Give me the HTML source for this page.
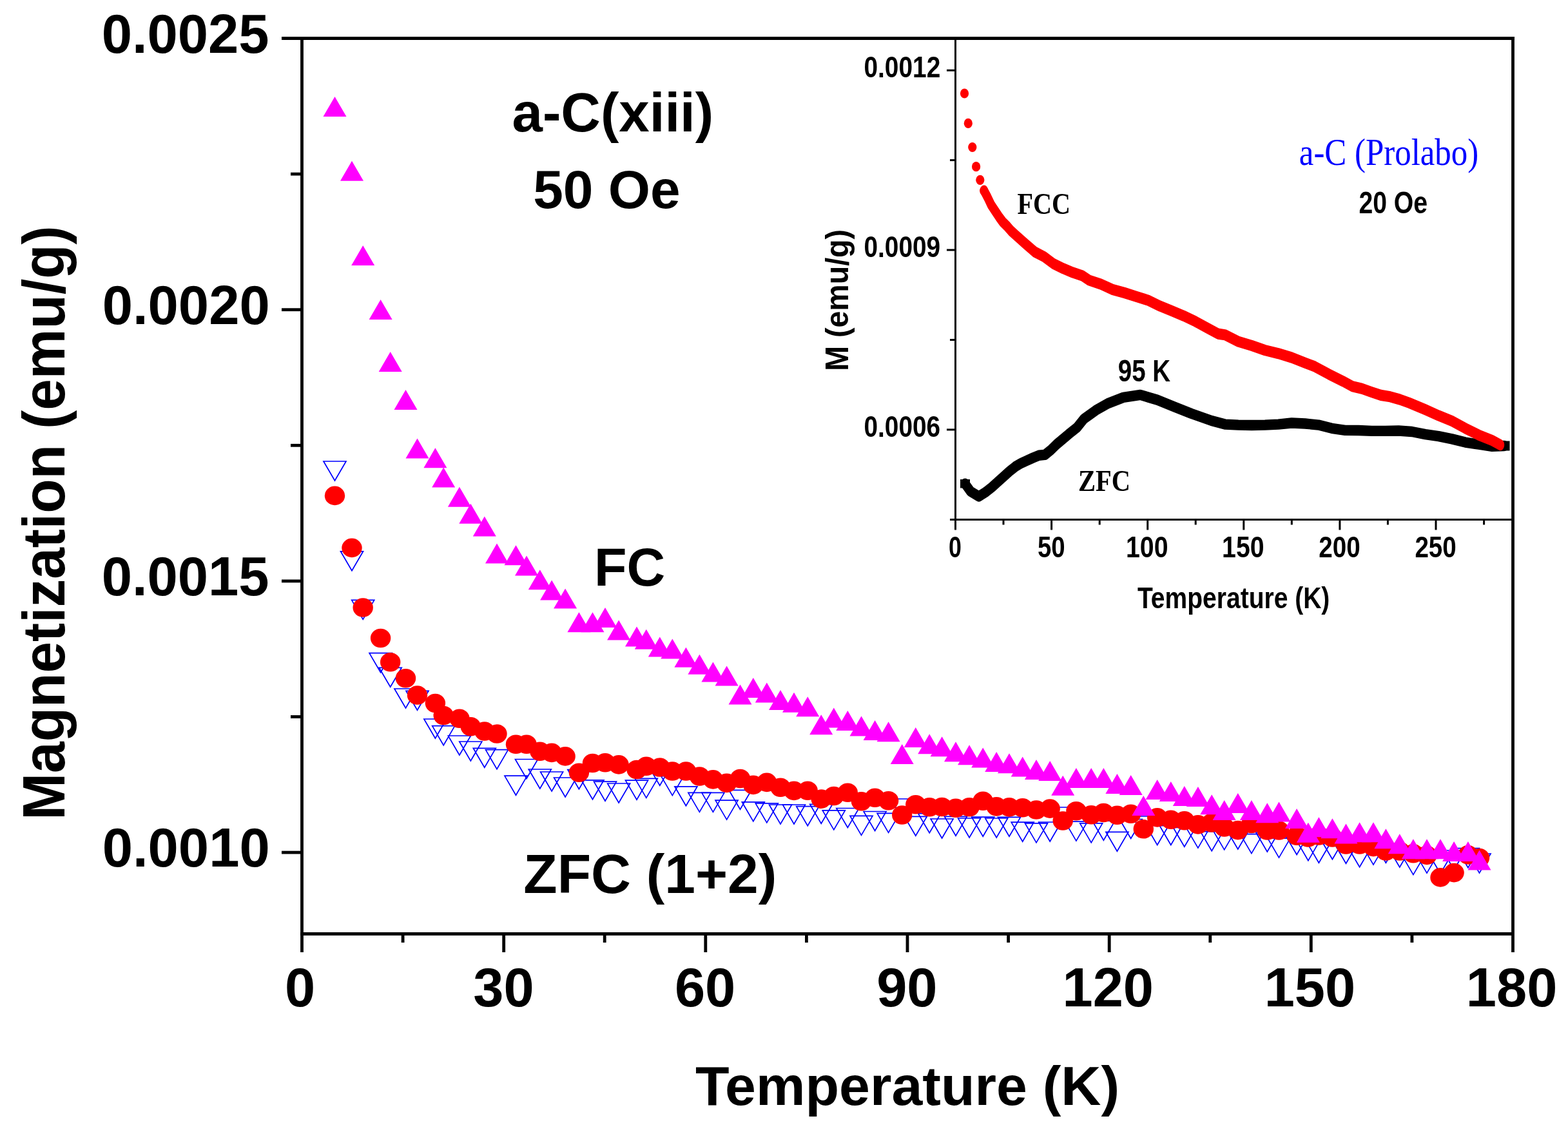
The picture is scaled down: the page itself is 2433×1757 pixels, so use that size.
<!DOCTYPE html><html><head><meta charset="utf-8"><title>Magnetization vs Temperature</title><style>html,body{margin:0;padding:0;background:#fff;overflow:hidden;width:2433px;height:1757px;}svg{display:block;}</style></head><body>
<svg width="2433" height="1757" viewBox="0 0 2433 1757">
<rect width="2433" height="1757" fill="#fff"/>
<g stroke="#000" stroke-width="4.8" fill="none" stroke-linecap="butt">
<path d="M437.0 59.5 H2349.9"/>
<path d="M468.5 57.1 V1451.9"/>
<path d="M2347.5 57.1 V1478.0"/>
<path d="M466.1 1449.5 H2347.5"/>
<path d="M437 480.7 H468.5"/>
<path d="M437 901.9 H468.5"/>
<path d="M437 1323.1 H468.5"/>
<path d="M451 270.1 H468.5"/>
<path d="M451 691.3 H468.5"/>
<path d="M451 1112.5 H468.5"/>
<path d="M468.5 1449.5 V1478"/>
<path d="M781.7 1449.5 V1478"/>
<path d="M1094.8 1449.5 V1478"/>
<path d="M1408.0 1449.5 V1478"/>
<path d="M1721.2 1449.5 V1478"/>
<path d="M2034.3 1449.5 V1478"/>
<path d="M625.1 1449.5 V1463"/>
<path d="M938.2 1449.5 V1463"/>
<path d="M1251.4 1449.5 V1463"/>
<path d="M1564.6 1449.5 V1463"/>
<path d="M1877.8 1449.5 V1463"/>
<path d="M2190.9 1449.5 V1463"/>
</g>
<text x="157.65" y="81.80" font-family='"Liberation Sans", sans-serif' font-weight="bold" font-size="85.00" fill="#000">0.0025</text>
<text x="158.71" y="503.00" font-family='"Liberation Sans", sans-serif' font-weight="bold" font-size="85.00" fill="#000">0.0020</text>
<text x="157.65" y="924.20" font-family='"Liberation Sans", sans-serif' font-weight="bold" font-size="85.00" fill="#000">0.0015</text>
<text x="158.71" y="1345.40" font-family='"Liberation Sans", sans-serif' font-weight="bold" font-size="85.00" fill="#000">0.0010</text>
<text x="441.97" y="1562.30" font-family='"Liberation Sans", sans-serif' font-weight="bold" font-size="84.80" fill="#000">0</text>
<text x="734.34" y="1562.30" font-family='"Liberation Sans", sans-serif' font-weight="bold" font-size="84.80" fill="#000">30</text>
<text x="1046.88" y="1562.30" font-family='"Liberation Sans", sans-serif' font-weight="bold" font-size="84.80" fill="#000">60</text>
<text x="1360.15" y="1562.30" font-family='"Liberation Sans", sans-serif' font-weight="bold" font-size="84.80" fill="#000">90</text>
<text x="1648.51" y="1562.30" font-family='"Liberation Sans", sans-serif' font-weight="bold" font-size="84.80" fill="#000">120</text>
<text x="1961.68" y="1562.30" font-family='"Liberation Sans", sans-serif' font-weight="bold" font-size="84.80" fill="#000">150</text>
<text x="2274.84" y="1562.30" font-family='"Liberation Sans", sans-serif' font-weight="bold" font-size="84.80" fill="#000">180</text>
<text x="1078.94" y="1714.70" font-family='"Liberation Sans", sans-serif' font-weight="bold" font-size="86.05" fill="#000">Temperature (K)</text>
<text transform="translate(100.40 1266.80) rotate(-90)" x="-5.90" y="0" font-family='"Liberation Sans", sans-serif' font-weight="bold" font-size="92.36" fill="#000" textLength="922.41" lengthAdjust="spacingAndGlyphs">Magnetization (emu/g)</text>
<text x="794.44" y="203.80" font-family='"Liberation Sans", sans-serif' font-weight="bold" font-size="85.30" fill="#000">a-C(xiii)</text>
<text x="827.18" y="323.20" font-family='"Liberation Sans", sans-serif' font-weight="bold" font-size="83.87" fill="#000">50 Oe</text>
<text x="922.02" y="909.40" font-family='"Liberation Sans", sans-serif' font-weight="bold" font-size="82.67" fill="#000">FC</text>
<text x="812.33" y="1385.80" font-family='"Liberation Sans", sans-serif' font-weight="bold" font-size="85.71" fill="#000">ZFC (1+2)</text>
<g fill="none" stroke="#0000FF" stroke-width="1.7" stroke-linejoin="miter">
<path d="M502.0 716.0 H537.0 L519.5 746.0 Z"/>
<path d="M528.5 855.8 H563.5 L546.0 885.8 Z"/>
<path d="M545.7 931.4 H580.7 L563.2 961.4 Z"/>
<path d="M573.1 1013.7 H608.1 L590.6 1043.7 Z"/>
<path d="M588.2 1036.3 H623.2 L605.7 1066.3 Z"/>
<path d="M612.0 1069.0 H647.0 L629.5 1099.0 Z"/>
<path d="M630.0 1072.3 H665.0 L647.5 1102.3 Z"/>
<path d="M657.9 1116.0 H692.9 L675.4 1146.0 Z"/>
<path d="M670.7 1126.7 H705.7 L688.2 1156.7 Z"/>
<path d="M695.4 1142.0 H730.4 L712.9 1172.0 Z"/>
<path d="M712.8 1151.0 H747.8 L730.3 1181.0 Z"/>
<path d="M734.3 1161.3 H769.3 L751.8 1191.3 Z"/>
<path d="M753.5 1163.7 H788.5 L771.0 1193.7 Z"/>
<path d="M783.0 1204.2 H818.0 L800.5 1234.2 Z"/>
<path d="M799.5 1178.5 H834.5 L817.0 1208.5 Z"/>
<path d="M820.3 1194.0 H855.3 L837.8 1224.0 Z"/>
<path d="M838.6 1198.0 H873.6 L856.1 1228.0 Z"/>
<path d="M859.6 1207.0 H894.6 L877.1 1237.0 Z"/>
<path d="M880.9 1194.7 H915.9 L898.4 1224.7 Z"/>
<path d="M902.0 1210.8 H937.0 L919.5 1240.8 Z"/>
<path d="M921.5 1213.2 H956.5 L939.0 1243.2 Z"/>
<path d="M942.6 1216.0 H977.6 L960.1 1246.0 Z"/>
<path d="M970.5 1211.2 H1005.5 L988.0 1241.2 Z"/>
<path d="M985.3 1208.4 H1020.3 L1002.8 1238.4 Z"/>
<path d="M1006.3 1189.2 H1041.3 L1023.8 1219.2 Z"/>
<path d="M1025.8 1204.6 H1060.8 L1043.3 1234.6 Z"/>
<path d="M1046.9 1220.8 H1081.9 L1064.4 1250.8 Z"/>
<path d="M1067.9 1230.4 H1102.9 L1085.4 1260.4 Z"/>
<path d="M1088.9 1230.4 H1123.9 L1106.4 1260.4 Z"/>
<path d="M1110.1 1242.1 H1145.1 L1127.6 1272.1 Z"/>
<path d="M1131.0 1226.3 H1166.0 L1148.5 1256.3 Z"/>
<path d="M1151.3 1244.8 H1186.3 L1168.8 1274.8 Z"/>
<path d="M1172.3 1246.9 H1207.3 L1189.8 1276.9 Z"/>
<path d="M1193.5 1249.0 H1228.5 L1211.0 1279.0 Z"/>
<path d="M1214.5 1249.0 H1249.5 L1232.0 1279.0 Z"/>
<path d="M1235.7 1251.7 H1270.7 L1253.2 1281.7 Z"/>
<path d="M1256.7 1248.3 H1291.7 L1274.2 1278.3 Z"/>
<path d="M1276.3 1257.9 H1311.3 L1293.8 1287.9 Z"/>
<path d="M1297.8 1254.5 H1332.8 L1315.3 1284.5 Z"/>
<path d="M1319.0 1266.4 H1354.0 L1336.5 1296.4 Z"/>
<path d="M1340.1 1259.5 H1375.1 L1357.6 1289.5 Z"/>
<path d="M1361.1 1262.4 H1396.1 L1378.6 1292.4 Z"/>
<path d="M1382.2 1240.0 H1417.2 L1399.7 1270.0 Z"/>
<path d="M1403.3 1267.3 H1438.3 L1420.8 1297.3 Z"/>
<path d="M1424.7 1262.7 H1459.7 L1442.2 1292.7 Z"/>
<path d="M1444.1 1271.0 H1479.1 L1461.6 1301.0 Z"/>
<path d="M1465.5 1267.3 H1500.5 L1483.0 1297.3 Z"/>
<path d="M1486.6 1270.0 H1521.6 L1504.1 1300.0 Z"/>
<path d="M1507.7 1268.2 H1542.7 L1525.2 1298.2 Z"/>
<path d="M1528.7 1270.0 H1563.7 L1546.2 1300.0 Z"/>
<path d="M1548.5 1268.3 H1583.5 L1566.0 1298.3 Z"/>
<path d="M1569.2 1276.2 H1604.2 L1586.7 1306.2 Z"/>
<path d="M1590.5 1277.9 H1625.5 L1608.0 1307.9 Z"/>
<path d="M1611.7 1276.0 H1646.7 L1629.2 1306.0 Z"/>
<path d="M1631.7 1253.0 H1666.7 L1649.2 1283.0 Z"/>
<path d="M1652.4 1275.1 H1687.4 L1669.9 1305.1 Z"/>
<path d="M1675.7 1277.9 H1710.7 L1693.2 1307.9 Z"/>
<path d="M1694.9 1274.2 H1729.9 L1712.4 1304.2 Z"/>
<path d="M1715.9 1291.3 H1750.9 L1733.4 1321.3 Z"/>
<path d="M1737.2 1271.5 H1772.2 L1754.7 1301.5 Z"/>
<path d="M1756.8 1267.0 H1791.8 L1774.3 1297.0 Z"/>
<path d="M1778.2 1281.5 H1813.2 L1795.7 1311.5 Z"/>
<path d="M1799.3 1281.5 H1834.3 L1816.8 1311.5 Z"/>
<path d="M1820.3 1284.3 H1855.3 L1837.8 1314.3 Z"/>
<path d="M1841.4 1286.1 H1876.4 L1858.9 1316.1 Z"/>
<path d="M1862.7 1290.7 H1897.7 L1880.2 1320.7 Z"/>
<path d="M1882.2 1288.9 H1917.2 L1899.7 1318.9 Z"/>
<path d="M1903.3 1288.0 H1938.3 L1920.8 1318.0 Z"/>
<path d="M1924.4 1294.6 H1959.4 L1941.9 1324.6 Z"/>
<path d="M1948.8 1292.0 H1983.8 L1966.3 1322.0 Z"/>
<path d="M1967.0 1301.1 H2002.0 L1984.5 1331.1 Z"/>
<path d="M1994.6 1296.5 H2029.6 L2012.1 1326.5 Z"/>
<path d="M2012.4 1305.7 H2047.4 L2029.9 1335.7 Z"/>
<path d="M2028.9 1309.3 H2063.9 L2046.4 1339.3 Z"/>
<path d="M2049.9 1303.8 H2084.9 L2067.4 1333.8 Z"/>
<path d="M2071.0 1310.3 H2106.0 L2088.5 1340.3 Z"/>
<path d="M2092.1 1315.8 H2127.1 L2109.6 1345.8 Z"/>
<path d="M2113.5 1312.1 H2148.5 L2131.0 1342.1 Z"/>
<path d="M2132.9 1309.3 H2167.9 L2150.4 1339.3 Z"/>
<path d="M2154.3 1316.0 H2189.3 L2171.8 1346.0 Z"/>
<path d="M2175.4 1327.6 H2210.4 L2192.9 1357.6 Z"/>
<path d="M2196.5 1325.1 H2231.5 L2214.0 1355.1 Z"/>
<path d="M2217.5 1326.0 H2252.5 L2235.0 1356.0 Z"/>
<path d="M2238.6 1320.0 H2273.6 L2256.1 1350.0 Z"/>
<path d="M2260.4 1316.7 H2295.4 L2277.9 1346.7 Z"/>
<path d="M2278.0 1325.0 H2313.0 L2295.5 1355.0 Z"/>
</g>
<g fill="#FF0000">
<ellipse cx="519.5" cy="769.4" rx="15.7" ry="14.8"/>
<ellipse cx="546.0" cy="850.4" rx="15.7" ry="14.8"/>
<ellipse cx="563.2" cy="943.0" rx="15.7" ry="14.8"/>
<ellipse cx="590.6" cy="990.5" rx="15.7" ry="14.8"/>
<ellipse cx="605.7" cy="1027.7" rx="15.7" ry="14.8"/>
<ellipse cx="629.5" cy="1052.8" rx="15.7" ry="14.8"/>
<ellipse cx="647.5" cy="1079.0" rx="15.7" ry="14.8"/>
<ellipse cx="675.4" cy="1091.5" rx="15.7" ry="14.8"/>
<ellipse cx="688.2" cy="1110.5" rx="15.7" ry="14.8"/>
<ellipse cx="712.9" cy="1115.2" rx="15.7" ry="14.8"/>
<ellipse cx="730.3" cy="1127.7" rx="15.7" ry="14.8"/>
<ellipse cx="751.8" cy="1135.0" rx="15.7" ry="14.8"/>
<ellipse cx="771.0" cy="1139.0" rx="15.7" ry="14.8"/>
<ellipse cx="800.5" cy="1155.3" rx="15.7" ry="14.8"/>
<ellipse cx="817.0" cy="1155.3" rx="15.7" ry="14.8"/>
<ellipse cx="837.8" cy="1166.3" rx="15.7" ry="14.8"/>
<ellipse cx="856.1" cy="1168.4" rx="15.7" ry="14.8"/>
<ellipse cx="877.1" cy="1173.9" rx="15.7" ry="14.8"/>
<ellipse cx="898.4" cy="1199.3" rx="15.7" ry="14.8"/>
<ellipse cx="919.5" cy="1184.5" rx="15.7" ry="14.8"/>
<ellipse cx="939.0" cy="1183.8" rx="15.7" ry="14.8"/>
<ellipse cx="960.1" cy="1186.9" rx="15.7" ry="14.8"/>
<ellipse cx="988.0" cy="1194.5" rx="15.7" ry="14.8"/>
<ellipse cx="1002.8" cy="1189.3" rx="15.7" ry="14.8"/>
<ellipse cx="1023.8" cy="1191.0" rx="15.7" ry="14.8"/>
<ellipse cx="1043.3" cy="1197.0" rx="15.7" ry="14.8"/>
<ellipse cx="1064.4" cy="1197.0" rx="15.7" ry="14.8"/>
<ellipse cx="1085.4" cy="1205.0" rx="15.7" ry="14.8"/>
<ellipse cx="1106.4" cy="1209.9" rx="15.7" ry="14.8"/>
<ellipse cx="1127.6" cy="1215.4" rx="15.7" ry="14.8"/>
<ellipse cx="1148.5" cy="1208.5" rx="15.7" ry="14.8"/>
<ellipse cx="1168.8" cy="1218.4" rx="15.7" ry="14.8"/>
<ellipse cx="1189.8" cy="1214.4" rx="15.7" ry="14.8"/>
<ellipse cx="1211.0" cy="1222.2" rx="15.7" ry="14.8"/>
<ellipse cx="1232.0" cy="1227.4" rx="15.7" ry="14.8"/>
<ellipse cx="1253.2" cy="1227.3" rx="15.7" ry="14.8"/>
<ellipse cx="1274.2" cy="1240.1" rx="15.7" ry="14.8"/>
<ellipse cx="1293.8" cy="1235.5" rx="15.7" ry="14.8"/>
<ellipse cx="1315.3" cy="1230.2" rx="15.7" ry="14.8"/>
<ellipse cx="1336.5" cy="1243.7" rx="15.7" ry="14.8"/>
<ellipse cx="1357.6" cy="1238.2" rx="15.7" ry="14.8"/>
<ellipse cx="1378.6" cy="1242.7" rx="15.7" ry="14.8"/>
<ellipse cx="1399.7" cy="1265.0" rx="15.7" ry="14.8"/>
<ellipse cx="1420.8" cy="1248.8" rx="15.7" ry="14.8"/>
<ellipse cx="1442.2" cy="1252.7" rx="15.7" ry="14.8"/>
<ellipse cx="1461.6" cy="1252.5" rx="15.7" ry="14.8"/>
<ellipse cx="1483.0" cy="1254.3" rx="15.7" ry="14.8"/>
<ellipse cx="1504.1" cy="1252.8" rx="15.7" ry="14.8"/>
<ellipse cx="1525.2" cy="1243.3" rx="15.7" ry="14.8"/>
<ellipse cx="1546.2" cy="1251.9" rx="15.7" ry="14.8"/>
<ellipse cx="1566.0" cy="1252.9" rx="15.7" ry="14.8"/>
<ellipse cx="1586.7" cy="1253.8" rx="15.7" ry="14.8"/>
<ellipse cx="1608.0" cy="1257.0" rx="15.7" ry="14.8"/>
<ellipse cx="1629.2" cy="1255.1" rx="15.7" ry="14.8"/>
<ellipse cx="1649.2" cy="1274.0" rx="15.7" ry="14.8"/>
<ellipse cx="1669.9" cy="1258.8" rx="15.7" ry="14.8"/>
<ellipse cx="1693.2" cy="1264.8" rx="15.7" ry="14.8"/>
<ellipse cx="1712.4" cy="1261.5" rx="15.7" ry="14.8"/>
<ellipse cx="1733.4" cy="1265.2" rx="15.7" ry="14.8"/>
<ellipse cx="1754.7" cy="1263.2" rx="15.7" ry="14.8"/>
<ellipse cx="1774.3" cy="1286.8" rx="15.7" ry="14.8"/>
<ellipse cx="1795.7" cy="1268.9" rx="15.7" ry="14.8"/>
<ellipse cx="1816.8" cy="1272.3" rx="15.7" ry="14.8"/>
<ellipse cx="1837.8" cy="1273.8" rx="15.7" ry="14.8"/>
<ellipse cx="1858.9" cy="1279.9" rx="15.7" ry="14.8"/>
<ellipse cx="1880.2" cy="1277.0" rx="15.7" ry="14.8"/>
<ellipse cx="1899.7" cy="1284.0" rx="15.7" ry="14.8"/>
<ellipse cx="1920.8" cy="1288.6" rx="15.7" ry="14.8"/>
<ellipse cx="1941.9" cy="1278.5" rx="15.7" ry="14.8"/>
<ellipse cx="1966.3" cy="1289.0" rx="15.7" ry="14.8"/>
<ellipse cx="1984.5" cy="1289.0" rx="15.7" ry="14.8"/>
<ellipse cx="2012.1" cy="1297.2" rx="15.7" ry="14.8"/>
<ellipse cx="2029.9" cy="1300.0" rx="15.7" ry="14.8"/>
<ellipse cx="2046.4" cy="1297.0" rx="15.7" ry="14.8"/>
<ellipse cx="2067.4" cy="1300.0" rx="15.7" ry="14.8"/>
<ellipse cx="2088.5" cy="1311.0" rx="15.7" ry="14.8"/>
<ellipse cx="2109.6" cy="1311.0" rx="15.7" ry="14.8"/>
<ellipse cx="2131.0" cy="1314.6" rx="15.7" ry="14.8"/>
<ellipse cx="2150.4" cy="1321.0" rx="15.7" ry="14.8"/>
<ellipse cx="2171.8" cy="1321.0" rx="15.7" ry="14.8"/>
<ellipse cx="2192.9" cy="1324.7" rx="15.7" ry="14.8"/>
<ellipse cx="2214.0" cy="1327.4" rx="15.7" ry="14.8"/>
<ellipse cx="2235.0" cy="1361.9" rx="15.7" ry="14.8"/>
<ellipse cx="2256.1" cy="1354.6" rx="15.7" ry="14.8"/>
<ellipse cx="2277.9" cy="1326.9" rx="15.7" ry="14.8"/>
<ellipse cx="2295.5" cy="1331.5" rx="15.7" ry="14.8"/>
</g>
<g fill="#FF00FF">
<path d="M519.5 150.0 L537.5 181.0 H501.5 Z"/>
<path d="M546.0 249.8 L564.0 280.8 H528.0 Z"/>
<path d="M563.2 381.0 L581.2 412.0 H545.2 Z"/>
<path d="M590.6 465.1 L608.6 496.1 H572.6 Z"/>
<path d="M605.7 545.9 L623.7 576.9 H587.7 Z"/>
<path d="M629.5 604.9 L647.5 635.9 H611.5 Z"/>
<path d="M647.5 680.6 L665.5 711.6 H629.5 Z"/>
<path d="M675.4 695.2 L693.4 726.2 H657.4 Z"/>
<path d="M688.2 725.4 L706.2 756.4 H670.2 Z"/>
<path d="M712.9 755.7 L730.9 786.7 H694.9 Z"/>
<path d="M730.3 781.7 L748.3 812.7 H712.3 Z"/>
<path d="M751.8 801.5 L769.8 832.5 H733.8 Z"/>
<path d="M771.0 843.6 L789.0 874.6 H753.0 Z"/>
<path d="M800.5 846.3 L818.5 877.3 H782.5 Z"/>
<path d="M817.0 862.4 L835.0 893.4 H799.0 Z"/>
<path d="M837.8 884.2 L855.8 915.2 H819.8 Z"/>
<path d="M856.1 900.6 L874.1 931.6 H838.1 Z"/>
<path d="M877.1 913.5 L895.1 944.5 H859.1 Z"/>
<path d="M898.4 950.3 L916.4 981.3 H880.4 Z"/>
<path d="M919.5 950.3 L937.5 981.3 H901.5 Z"/>
<path d="M939.0 943.0 L957.0 974.0 H921.0 Z"/>
<path d="M960.1 962.6 L978.1 993.6 H942.1 Z"/>
<path d="M988.0 972.6 L1006.0 1003.6 H970.0 Z"/>
<path d="M1002.8 976.7 L1020.8 1007.7 H984.8 Z"/>
<path d="M1023.8 988.6 L1041.8 1019.6 H1005.8 Z"/>
<path d="M1043.3 991.5 L1061.3 1022.5 H1025.3 Z"/>
<path d="M1064.4 1004.7 L1082.4 1035.7 H1046.4 Z"/>
<path d="M1085.4 1015.7 L1103.4 1046.7 H1067.4 Z"/>
<path d="M1106.4 1027.6 L1124.4 1058.6 H1088.4 Z"/>
<path d="M1127.6 1033.6 L1145.6 1064.6 H1109.6 Z"/>
<path d="M1148.5 1062.4 L1166.5 1093.4 H1130.5 Z"/>
<path d="M1168.8 1051.9 L1186.8 1082.9 H1150.8 Z"/>
<path d="M1189.8 1059.6 L1207.8 1090.6 H1171.8 Z"/>
<path d="M1211.0 1071.0 L1229.0 1102.0 H1193.0 Z"/>
<path d="M1232.0 1074.8 L1250.0 1105.8 H1214.0 Z"/>
<path d="M1253.2 1081.2 L1271.2 1112.2 H1235.2 Z"/>
<path d="M1274.2 1109.2 L1292.2 1140.2 H1256.2 Z"/>
<path d="M1293.8 1098.5 L1311.8 1129.5 H1275.8 Z"/>
<path d="M1315.3 1103.0 L1333.3 1134.0 H1297.3 Z"/>
<path d="M1336.5 1111.5 L1354.5 1142.5 H1318.5 Z"/>
<path d="M1357.6 1117.9 L1375.6 1148.9 H1339.6 Z"/>
<path d="M1378.6 1120.3 L1396.6 1151.3 H1360.6 Z"/>
<path d="M1399.7 1155.0 L1417.7 1186.0 H1381.7 Z"/>
<path d="M1420.8 1128.9 L1438.8 1159.9 H1402.8 Z"/>
<path d="M1442.2 1139.3 L1460.2 1170.3 H1424.2 Z"/>
<path d="M1461.6 1143.2 L1479.6 1174.2 H1443.6 Z"/>
<path d="M1483.0 1151.3 L1501.0 1182.3 H1465.0 Z"/>
<path d="M1504.1 1156.3 L1522.1 1187.3 H1486.1 Z"/>
<path d="M1525.2 1160.5 L1543.2 1191.5 H1507.2 Z"/>
<path d="M1546.2 1166.9 L1564.2 1197.9 H1528.2 Z"/>
<path d="M1566.0 1169.2 L1584.0 1200.2 H1548.0 Z"/>
<path d="M1586.7 1174.5 L1604.7 1205.5 H1568.7 Z"/>
<path d="M1608.0 1179.1 L1626.0 1210.1 H1590.0 Z"/>
<path d="M1629.2 1181.1 L1647.2 1212.1 H1611.2 Z"/>
<path d="M1649.2 1203.8 L1667.2 1234.8 H1631.2 Z"/>
<path d="M1669.9 1192.1 L1687.9 1223.1 H1651.9 Z"/>
<path d="M1693.2 1192.1 L1711.2 1223.1 H1675.2 Z"/>
<path d="M1712.4 1192.1 L1730.4 1223.1 H1694.4 Z"/>
<path d="M1733.4 1201.1 L1751.4 1232.1 H1715.4 Z"/>
<path d="M1754.7 1203.1 L1772.7 1234.1 H1736.7 Z"/>
<path d="M1774.3 1235.0 L1792.3 1266.0 H1756.3 Z"/>
<path d="M1795.7 1209.9 L1813.7 1240.9 H1777.7 Z"/>
<path d="M1816.8 1213.0 L1834.8 1244.0 H1798.8 Z"/>
<path d="M1837.8 1220.0 L1855.8 1251.0 H1819.8 Z"/>
<path d="M1858.9 1220.9 L1876.9 1251.9 H1840.9 Z"/>
<path d="M1880.2 1233.3 L1898.2 1264.3 H1862.2 Z"/>
<path d="M1899.7 1241.9 L1917.7 1272.9 H1881.7 Z"/>
<path d="M1920.8 1231.0 L1938.8 1262.0 H1902.8 Z"/>
<path d="M1941.9 1242.1 L1959.9 1273.1 H1923.9 Z"/>
<path d="M1966.3 1246.3 L1984.3 1277.3 H1948.3 Z"/>
<path d="M1984.5 1244.5 L2002.5 1275.5 H1966.5 Z"/>
<path d="M2012.1 1255.1 L2030.1 1286.1 H1994.1 Z"/>
<path d="M2029.9 1276.7 L2047.9 1307.7 H2011.9 Z"/>
<path d="M2046.4 1268.3 L2064.4 1299.3 H2028.4 Z"/>
<path d="M2067.4 1270.3 L2085.4 1301.3 H2049.4 Z"/>
<path d="M2088.5 1278.4 L2106.5 1309.4 H2070.5 Z"/>
<path d="M2109.6 1276.2 L2127.6 1307.2 H2091.6 Z"/>
<path d="M2131.0 1276.2 L2149.0 1307.2 H2113.0 Z"/>
<path d="M2150.4 1286.2 L2168.4 1317.2 H2132.4 Z"/>
<path d="M2171.8 1294.3 L2189.8 1325.3 H2153.8 Z"/>
<path d="M2192.9 1302.2 L2210.9 1333.2 H2174.9 Z"/>
<path d="M2214.0 1302.2 L2232.0 1333.2 H2196.0 Z"/>
<path d="M2235.0 1302.2 L2253.0 1333.2 H2217.0 Z"/>
<path d="M2256.1 1306.1 L2274.1 1337.1 H2238.1 Z"/>
<path d="M2277.9 1306.1 L2295.9 1337.1 H2259.9 Z"/>
<path d="M2295.5 1319.5 L2313.5 1350.5 H2277.5 Z"/>
</g>
<g stroke="#000" stroke-width="3.0" fill="none">
<path d="M1482.5 59.5 V808.1"/>
<path d="M1474.0 806.6 H2347.5"/>
<path d="M1469 109.2 H1482.5"/>
<path d="M1469 388.0 H1482.5"/>
<path d="M1469 666.9 H1482.5"/>
<path d="M1474 248.6 H1482.5"/>
<path d="M1474 527.5 H1482.5"/>
<path d="M1482.5 806.6 V822.5"/>
<path d="M1631.6 806.6 V822.5"/>
<path d="M1780.7 806.6 V822.5"/>
<path d="M1929.8 806.6 V822.5"/>
<path d="M2078.9 806.6 V822.5"/>
<path d="M2228.0 806.6 V822.5"/>
<path d="M1557.0 806.6 V814.5"/>
<path d="M1706.2 806.6 V814.5"/>
<path d="M1855.2 806.6 V814.5"/>
<path d="M2004.3 806.6 V814.5"/>
<path d="M2153.4 806.6 V814.5"/>
<path d="M2302.6 806.6 V814.5"/>
</g>
<text x="1340.45" y="120.20" font-family='"Liberation Sans", sans-serif' font-weight="bold" font-size="45.82" fill="#000" textLength="118.86" lengthAdjust="spacingAndGlyphs">0.0012</text>
<text x="1340.45" y="399.05" font-family='"Liberation Sans", sans-serif' font-weight="bold" font-size="45.82" fill="#000" textLength="118.76" lengthAdjust="spacingAndGlyphs">0.0009</text>
<text x="1340.45" y="677.90" font-family='"Liberation Sans", sans-serif' font-weight="bold" font-size="45.82" fill="#000" textLength="118.76" lengthAdjust="spacingAndGlyphs">0.0006</text>
<text x="1472.07" y="864.80" font-family='"Liberation Sans", sans-serif' font-weight="bold" font-size="45.82" fill="#000" textLength="19.91" lengthAdjust="spacingAndGlyphs">0</text>
<text x="1609.95" y="864.80" font-family='"Liberation Sans", sans-serif' font-weight="bold" font-size="45.82" fill="#000" textLength="42.78" lengthAdjust="spacingAndGlyphs">50</text>
<text x="1746.99" y="864.80" font-family='"Liberation Sans", sans-serif' font-weight="bold" font-size="45.82" fill="#000" textLength="65.57" lengthAdjust="spacingAndGlyphs">100</text>
<text x="1896.09" y="864.80" font-family='"Liberation Sans", sans-serif' font-weight="bold" font-size="45.82" fill="#000" textLength="65.57" lengthAdjust="spacingAndGlyphs">150</text>
<text x="2046.30" y="864.80" font-family='"Liberation Sans", sans-serif' font-weight="bold" font-size="45.82" fill="#000" textLength="64.44" lengthAdjust="spacingAndGlyphs">200</text>
<text x="2195.40" y="864.80" font-family='"Liberation Sans", sans-serif' font-weight="bold" font-size="45.82" fill="#000" textLength="64.44" lengthAdjust="spacingAndGlyphs">250</text>
<text x="1764.91" y="944.40" font-family='"Liberation Sans", sans-serif' font-weight="bold" font-size="46.55" fill="#000" textLength="298.43" lengthAdjust="spacingAndGlyphs">Temperature (K)</text>
<text transform="translate(1315.50 572.60) rotate(-90)" x="-3.14" y="0" font-family='"Liberation Sans", sans-serif' font-weight="bold" font-size="49.45" fill="#000" textLength="219.74" lengthAdjust="spacingAndGlyphs">M (emu/g)</text>
<text x="2015.82" y="256.40" font-family='"Liberation Serif", serif' font-weight="normal" font-size="58.63" fill="#0000FF" textLength="278.38" lengthAdjust="spacingAndGlyphs">a-C (Prolabo)</text>
<text x="2108.43" y="330.50" font-family='"Liberation Sans", sans-serif' font-weight="bold" font-size="47.27" fill="#000" textLength="106.71" lengthAdjust="spacingAndGlyphs">20 Oe</text>
<text x="1734.75" y="591.80" font-family='"Liberation Sans", sans-serif' font-weight="bold" font-size="47.71" fill="#000" textLength="81.43" lengthAdjust="spacingAndGlyphs">95 K</text>
<text x="1578.60" y="331.90" font-family='"Liberation Serif", serif' font-weight="bold" font-size="45.80" fill="#000" textLength="82.42" lengthAdjust="spacingAndGlyphs">FCC</text>
<text x="1673.08" y="761.60" font-family='"Liberation Serif", serif' font-weight="bold" font-size="47.33" fill="#000" textLength="80.96" lengthAdjust="spacingAndGlyphs">ZFC</text>
<g transform="scale(1 1.1714)"><polyline points="1497.4,640.93 1506.0,651.09 1518.8,657.74 1529.8,651.85 1539.0,645.62 1548.1,638.62 1557.3,631.54 1566.4,624.54 1575.6,618.22 1584.7,613.61 1593.9,610.02 1603.0,606.52 1612.2,603.37 1621.4,602.60 1630.5,596.37 1639.7,588.60 1658.3,575.20 1671.5,566.15 1682.1,554.88 1700.6,543.52 1719.2,534.48 1743.0,526.62 1769.4,523.21 1795.9,529.95 1822.3,539.00 1848.8,548.05 1880.0,557.44 1900.7,562.22 1921.4,563.07 1942.2,563.41 1962.9,563.07 1983.6,562.22 2004.3,560.43 2025.1,561.28 2045.8,563.07 2066.5,567.51 2087.2,570.16 2108.0,570.24 2128.7,571.01 2149.4,571.01 2170.1,570.67 2190.8,571.95 2211.6,575.45 2232.3,578.10 2253.0,581.68 2273.7,586.12 2294.5,588.77 2315.2,591.41 2334.0,590.73" fill="none" stroke="#000" stroke-width="14.00" stroke-linejoin="round" stroke-linecap="round"/></g>
<rect x="1490" y="744" width="15" height="13.5" fill="#000"/>
<rect x="2330" y="684.5" width="12.5" height="15" fill="#000"/>
<g transform="scale(1 1.3871)"><polyline points="1526.9,213.40 1532.4,220.89 1537.9,229.26 1544.0,235.89 1550.0,242.45 1556.0,248.36 1562.0,252.61 1569.0,258.45 1576.6,263.43 1591.3,272.94 1605.9,281.96 1620.6,287.51 1635.2,295.37 1649.9,300.48 1664.5,304.88 1679.2,308.41 1690.0,313.60 1708.3,318.07 1726.6,324.06 1744.9,327.66 1763.3,331.92 1781.6,336.03 1799.9,342.51 1818.2,347.78 1836.5,353.40 1854.8,359.67 1873.2,366.95 1890.0,373.51 1900.7,374.67 1921.4,382.17 1942.2,386.63 1962.9,391.90 1983.6,395.57 2004.3,400.12 2025.1,406.10 2040.0,410.14 2062.0,418.72 2084.0,426.65 2098.6,432.34 2113.3,434.87 2127.9,438.69 2142.6,442.22 2157.2,443.95 2171.9,446.98 2186.5,450.80 2211.6,458.37 2232.3,465.07 2253.0,471.06 2273.7,479.27 2294.5,486.77 2315.2,492.68 2328.0,497.80" fill="none" stroke="#FF0000" stroke-width="12.40" stroke-linejoin="round" stroke-linecap="round"/></g>
<ellipse cx="1496.5" cy="145.0" rx="6.6" ry="7.6" fill="#FF0000"/>
<ellipse cx="1502.3" cy="191.4" rx="6.6" ry="7.6" fill="#FF0000"/>
<ellipse cx="1508.8" cy="228.5" rx="6.6" ry="7.6" fill="#FF0000"/>
<ellipse cx="1514.6" cy="258.7" rx="6.6" ry="7.6" fill="#FF0000"/>
<ellipse cx="1520.8" cy="279.3" rx="6.6" ry="7.6" fill="#FF0000"/>
<ellipse cx="1526.7" cy="295.8" rx="6.6" ry="7.6" fill="#FF0000"/>
</svg></body></html>
